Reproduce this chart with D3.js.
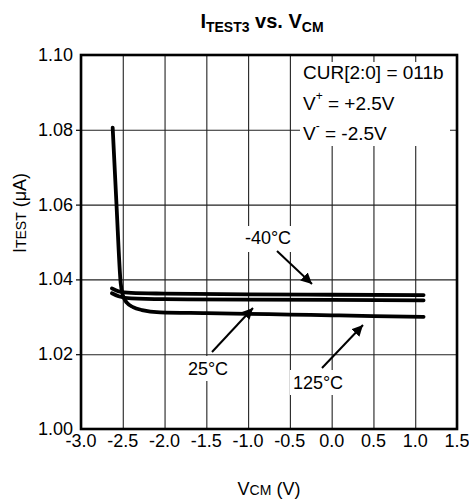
<!DOCTYPE html>
<html><head><meta charset="utf-8">
<script src="https://cdn.jsdelivr.net/npm/d3@7"></script>
<style>body{margin:0;background:#fff}svg{display:block;font-family:"Liberation Sans",Arial,sans-serif}</style>
</head><body><svg id="c" width="469" height="503"></svg>
<script>
// Data
const xTicks = [-3.0,-2.5,-2.0,-1.5,-1.0,-0.5,0.0,0.5,1.0,1.5];
const yTicks = [1.00,1.02,1.04,1.06,1.08,1.10];
const seriesNames = ["-40°C","25°C","125°C"];
const vTop = [[-2.63,1.0376],[-2.55,1.0368],[-2.4,1.0364],[-2.0,1.0362],[-1.0,1.0360],[0.0,1.0359],[1.1,1.0358]];
const vMid = [[-2.63,1.0363],[-2.55,1.0355],[-2.4,1.0349],[-2.0,1.0347],[-1.0,1.0346],[0.0,1.0345],[1.1,1.0344]];
const vBot = [[-2.621,1.0806],[-2.575,1.0599],[-2.525,1.0390],[-2.497,1.0356],[-2.449,1.0337],[-2.378,1.0326],[-2.27,1.0318],[-2.055,1.0312],[-1.5,1.0310],[-1.0,1.0308],[-0.5,1.0306],[0.0,1.0304],[0.5,1.0302],[1.1,1.0300]];
const condLines = ["CUR[2:0] = 011b","V+ = +2.5V","V- = -2.5V"];

const svg = d3.select("#c");
const L=81,R=457,T=55,B=429;
const x = d3.scaleLinear().domain([-3,1.5]).range([L,R]);
const y = d3.scaleLinear().domain([1.00,1.10]).range([B,T]);

// grid
const g = svg.append("g");
g.append("g").attr("transform",`translate(0,${B})`)
 .call(d3.axisBottom(x).tickValues(xTicks).tickSize(-(B-T)).tickFormat(""))
 .call(a=>{a.select(".domain").remove();a.selectAll("line").attr("stroke","#222").attr("stroke-width",1.1);});
g.append("g").attr("transform",`translate(${L},0)`)
 .call(d3.axisLeft(y).tickValues(yTicks).tickSize(-(R-L)).tickFormat(""))
 .call(a=>{a.select(".domain").remove();a.selectAll("line").attr("stroke","#222").attr("stroke-width",1.1);});
// small outward y ticks
g.append("g").attr("transform",`translate(${L},0)`)
 .call(d3.axisLeft(y).tickValues(yTicks.filter(v=>v>1.0&&v<1.1)).tickSize(5).tickFormat(""))
 .call(a=>{a.select(".domain").remove();a.selectAll("line").attr("stroke","#000").attr("stroke-width",1.2);});

// tick labels
svg.append("g").selectAll("text").data(xTicks).join("text")
 .attr("x",d=>x(d)).attr("y",447).attr("text-anchor","middle").attr("font-size",18)
 .text(d=>d.toFixed(1));
svg.append("g").selectAll("text").data(yTicks).join("text")
 .attr("x",73).attr("y",d=>y(d)+6).attr("text-anchor","end").attr("font-size",18)
 .text(d=>d.toFixed(2));

// condition box (white background)
svg.append("rect").attr("x",300).attr("y",62).attr("width",150).attr("height",84).attr("fill","#fff");
const ct = svg.append("g").attr("font-size",19);
ct.append("text").attr("x",303).attr("y",79).text(condLines[0]);
const t2 = ct.append("text").attr("x",303).attr("y",110);
t2.append("tspan").text("V");
t2.append("tspan").attr("font-size",12).attr("dy",-10).text("+");
t2.append("tspan").attr("dy",10).text(condLines[1].slice(2));
const t3 = ct.append("text").attr("x",303).attr("y",140);
t3.append("tspan").text("V");
t3.append("tspan").attr("font-size",12).attr("dy",-10).text("-");
t3.append("tspan").attr("dy",10).text(condLines[2].slice(2));

// annotation label backgrounds
const labels = [
 {name:seriesNames[0], tx:268, ty:244, box:[241,226,56,26], from:[277,251], to:[312,284]},
 {name:seriesNames[1], tx:208, ty:375, box:[185,356,47,25], from:[212,352], to:[253,308]},
 {name:seriesNames[2], tx:318, ty:389, box:[290,370,56,25], from:[322,368], to:[363,325]}
];
svg.append("g").selectAll("rect").data(labels).join("rect")
 .attr("x",d=>d.box[0]).attr("y",d=>d.box[1]).attr("width",d=>d.box[2]).attr("height",d=>d.box[3]).attr("fill","#fff");

// curves
const line = d3.line().x(d=>x(d[0])).y(d=>y(d[1])).curve(d3.curveMonotoneX);
svg.append("g").selectAll("path").data([vTop,vMid,vBot]).join("path")
 .attr("d",line).attr("fill","none").attr("stroke","#000").attr("stroke-width",3.8)
 .attr("stroke-linecap","round").attr("stroke-linejoin","round");

// border
svg.append("rect").attr("x",L).attr("y",T).attr("width",R-L).attr("height",B-T)
 .attr("fill","none").attr("stroke","#000").attr("stroke-width",2.6);

// annotations
svg.append("defs").append("marker").attr("id","ah").attr("viewBox","0 0 10 10")
 .attr("refX",10).attr("refY",5).attr("markerWidth",11).attr("markerHeight",11)
 .attr("markerUnits","userSpaceOnUse").attr("orient","auto")
 .append("path").attr("d","M0,0L10,5L0,10Z").attr("fill","#000");
const an = svg.append("g");
an.selectAll("line").data(labels).join("line")
 .attr("x1",d=>d.from[0]).attr("y1",d=>d.from[1]).attr("x2",d=>d.to[0]).attr("y2",d=>d.to[1])
 .attr("stroke","#000").attr("stroke-width",2).attr("marker-end","url(#ah)");
an.selectAll("text").data(labels).join("text")
 .attr("x",d=>d.tx).attr("y",d=>d.ty).attr("text-anchor","middle").attr("font-size",18).text(d=>d.name);

// title
const title = svg.append("text").attr("x",262).attr("y",28).attr("text-anchor","middle")
 .attr("font-weight","bold").attr("font-size",20);
title.append("tspan").text("I");
title.append("tspan").attr("font-size",14).attr("dy",4).text("TEST3");
title.append("tspan").attr("dy",-4).text(" vs. V");
title.append("tspan").attr("font-size",14).attr("dy",4).text("CM");

// x axis title
const xt = svg.append("text").attr("x",269).attr("y",495).attr("text-anchor","middle").attr("font-size",18);
xt.append("tspan").text("V");
xt.append("tspan").attr("font-size",14).text("CM");
xt.append("tspan").text(" (V)");

// y axis title
const yt = svg.append("text").attr("transform","translate(26,213) rotate(-90)").attr("text-anchor","middle").attr("font-size",18);
yt.append("tspan").text("I");
yt.append("tspan").attr("font-size",14).text("TEST");
yt.append("tspan").text(" (μA)");
</script></body></html>
